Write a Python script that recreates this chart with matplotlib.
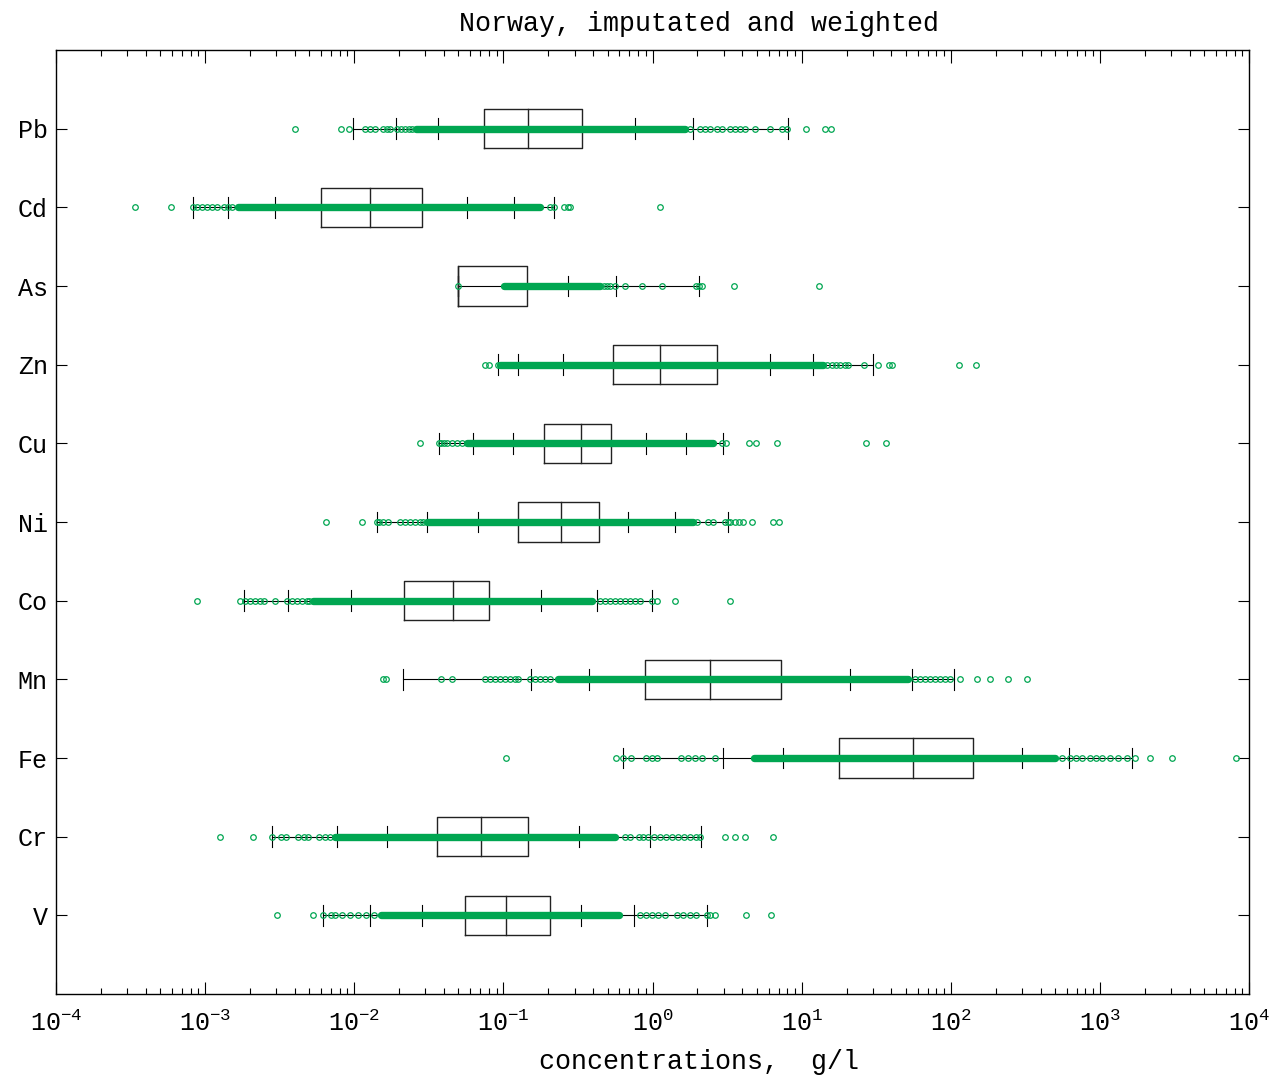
import matplotlib
matplotlib.use('Agg')
import matplotlib.pyplot as plt
from matplotlib.ticker import LogLocator, NullFormatter, FixedLocator

plt.rcParams['font.family'] = ['Liberation Mono', 'DejaVu Sans']
plt.rcParams['mathtext.fontset'] = 'custom'
plt.rcParams['mathtext.rm'] = 'Liberation Mono'
plt.rcParams['mathtext.it'] = 'Liberation Mono'

# elements, top to bottom as in the figure
elements = ['Pb', 'Cd', 'As', 'Zn', 'Cu', 'Ni', 'Co', 'Mn', 'Fe', 'Cr', 'V']

q1 = [0.074, 0.0060, 0.050, 0.54, 0.187, 0.126, 0.0216, 0.895, 17.8, 0.0359, 0.0556]
median = [0.146, 0.0128, 0.050, 1.12, 0.330, 0.242, 0.0459, 2.44, 55.7, 0.0713, 0.1045]
q3 = [0.337, 0.0285, 0.145, 2.69, 0.525, 0.438, 0.0795, 7.24, 142, 0.146, 0.207]
whisk_lo = [0.0098, 0.00083, 0.050, 0.092, 0.0372, 0.0141, 0.00183, 0.0213, 0.630, 0.00282, 0.00617]
whisk_hi = [8.1, 0.217, 2.05, 30.1, 2.98, 3.19, 0.985, 105, 1642, 2.13, 2.32]
tick_lo_out = [0.0191, 0.00142, 0.050, 0.126, 0.0626, 0.0309, 0.00361, 0.153, 2.98, 0.00766, 0.0128]
tick_lo_in = [0.0367, 0.00294, 0.050, 0.251, 0.1155, 0.0673, 0.00951, 0.378, 7.50, 0.01666, 0.0286]
tick_hi_in = [0.763, 0.057, 0.273, 6.14, 0.90, 0.688, 0.180, 21.1, 300, 0.321, 0.331]
tick_hi_out = [1.855, 0.118, 0.569, 12.0, 1.67, 1.42, 0.423, 55.0, 619, 0.962, 0.746]

# range where the samples are so dense they form a solid band
dense_lo = [0.0259, 0.00165, 0.1007, 0.095, 0.057, 0.0306, 0.00525, 0.232, 4.79, 0.0074, 0.0150]
dense_hi = [1.65, 0.176, 0.445, 13.9, 2.55, 1.87, 0.391, 51.4, 500, 0.564, 0.596]

# single samples visible outside the band
pb_pts = [0.0040, 0.0082, 0.0092, 0.0118, 0.0128, 0.0138, 0.0156, 0.0166, 0.0174, 0.0194,
          0.0206, 0.0219, 0.0233, 0.0244, 1.78, 2.08, 2.25, 2.43, 2.71, 2.92, 3.31, 3.57,
          3.86, 4.17, 4.87, 6.14, 7.38, 8.0, 10.7, 14.3, 15.7]
cd_pts = [0.00034, 0.00059, 0.00083, 0.00088, 0.00095, 0.00103, 0.00111, 0.0012, 0.00134,
          0.00142, 0.00151, 0.206, 0.217, 0.255, 0.271, 0.280, 1.12]
as_pts = [0.050, 0.473, 0.495, 0.519, 0.56, 0.654, 0.844, 1.15, 1.96, 2.05, 2.15, 3.52, 13.1]
zn_pts = [0.0757, 0.080, 0.092, 0.098, 14.8, 16.0, 17.0, 18.1, 19.5, 20.5, 26.2, 32.5,
          38.5, 40.4, 113, 147]
cu_pts = [0.0276, 0.0372, 0.0382, 0.0400, 0.0419, 0.0453, 0.0489, 0.053, 2.91, 3.11, 4.44,
          4.92, 6.81, 27.0, 36.8]
ni_pts = [0.00647, 0.0112, 0.0141, 0.0147, 0.0157, 0.0169, 0.0203, 0.0219, 0.0237, 0.0255,
          0.0276, 0.0289, 1.98, 2.37, 2.53, 3.06, 3.2, 3.3, 3.57, 3.8, 4.04, 4.63, 6.46, 7.05]
co_pts = [0.00088, 0.00171, 0.00185, 0.0020, 0.00216, 0.00233, 0.0025, 0.00294, 0.00354,
          0.00382, 0.00412, 0.00446, 0.0048, 0.0050, 0.445, 0.48, 0.519, 0.56, 0.605, 0.654,
          0.706, 0.763, 0.824, 0.985, 1.065, 1.41, 3.31]
mn_pts = [0.0156, 0.0164, 0.0379, 0.0455, 0.0753, 0.081, 0.088, 0.095, 0.1026, 0.110,
          0.1197, 0.125, 0.151, 0.163, 0.176, 0.190, 0.206, 57.7, 62.3, 67.3, 72.7, 78.5,
          84.9, 91.6, 99.0, 115, 150, 183, 242, 324]
fe_pts = [0.1037, 0.567, 0.63, 0.716, 0.905, 0.995, 1.08, 1.55, 1.73, 1.93, 2.15, 2.61,
          557, 631, 692, 759, 859, 942, 1033, 1169, 1322, 1510, 1733, 2168, 3069, 8148]
cr_pts = [0.00126, 0.00209, 0.00282, 0.00323, 0.0035, 0.0042, 0.0046, 0.00493, 0.0058,
          0.0064, 0.00687, 0.654, 0.71, 0.806, 0.86, 0.933, 1.02, 1.12, 1.23, 1.35, 1.48,
          1.62, 1.78, 1.95, 2.08, 3.06, 3.55, 4.17, 6.42]
v_pts = [0.00303, 0.00527, 0.00617, 0.00698, 0.00745, 0.00828, 0.0094, 0.0106, 0.0120,
         0.01355, 0.824, 0.91, 0.992, 1.09, 1.21, 1.46, 1.61, 1.78, 1.95, 2.32, 2.43, 2.63,
         4.24, 6.23]
points = [pb_pts, cd_pts, as_pts, zn_pts, cu_pts, ni_pts, co_pts, mn_pts, fe_pts, cr_pts, v_pts]

green = '#00a651'

fig = plt.figure(figsize=(12.71, 10.75), dpi=100)
ax = fig.add_axes([56 / 1271, 81 / 1075, 1193 / 1271, 944 / 1075])
ax.set_xscale('log')

n = len(elements)
for i, name in enumerate(elements):
    y = n - i
    # whisker line and percentile marks
    ax.plot([whisk_lo[i], whisk_hi[i]], [y, y], color='k', lw=0.8, zorder=1)
    for t in [whisk_lo[i], tick_lo_out[i], tick_lo_in[i], tick_hi_in[i], tick_hi_out[i], whisk_hi[i]]:
        ax.plot([t, t], [y - 0.13, y + 0.13], color='k', lw=0.8, zorder=1)
    # box
    ax.plot([q1[i], q3[i], q3[i], q1[i], q1[i]],
            [y - 0.25, y - 0.25, y + 0.25, y + 0.25, y - 0.25], color='#222222', lw=1.0, zorder=2)
    ax.plot([median[i], median[i]], [y - 0.25, y + 0.25], color='#222222', lw=1.0, zorder=2)
    # samples
    ax.plot([dense_lo[i], dense_hi[i]], [y, y], color=green, lw=5.3, solid_capstyle='round', zorder=3)
    ax.plot(points[i], [y] * len(points[i]), 'o', mfc='none', mec=green, ms=4, mew=0.9, zorder=3)

ax.set_xlim(1e-4, 1e4)
ax.set_ylim(0, 12)

xt = [10.0 ** k for k in range(-4, 5)]
ax.xaxis.set_major_locator(FixedLocator(xt))
ax.set_xticklabels([r'$\mathrm{10^{%d}}$' % k for k in range(-4, 5)], fontsize=18)
ax.xaxis.set_minor_locator(LogLocator(base=10, subs=range(2, 10), numticks=20))
ax.xaxis.set_minor_formatter(NullFormatter())
ax.tick_params(axis='x', which='major', direction='in', top=True, bottom=True, length=9, width=0.8, pad=12)
ax.tick_params(axis='x', which='minor', direction='in', top=True, bottom=True, length=4.5, width=0.8)

ax.set_yticks(range(1, n + 1))
ax.set_yticklabels(elements[::-1], fontsize=18)
ax.tick_params(axis='y', direction='in', left=True, right=True, length=8, width=0.8, pad=6)

for s in ax.spines.values():
    s.set_linewidth(1.0)

ax.set_title('Norway, imputated and weighted', fontsize=19.2, pad=14, x=0.5386)
ax.set_xlabel('concentrations,  g/l', fontsize=19.2, labelpad=8)
ax.xaxis.set_label_coords(0.5386, -0.058)

fig.savefig('out.png', dpi=100)
